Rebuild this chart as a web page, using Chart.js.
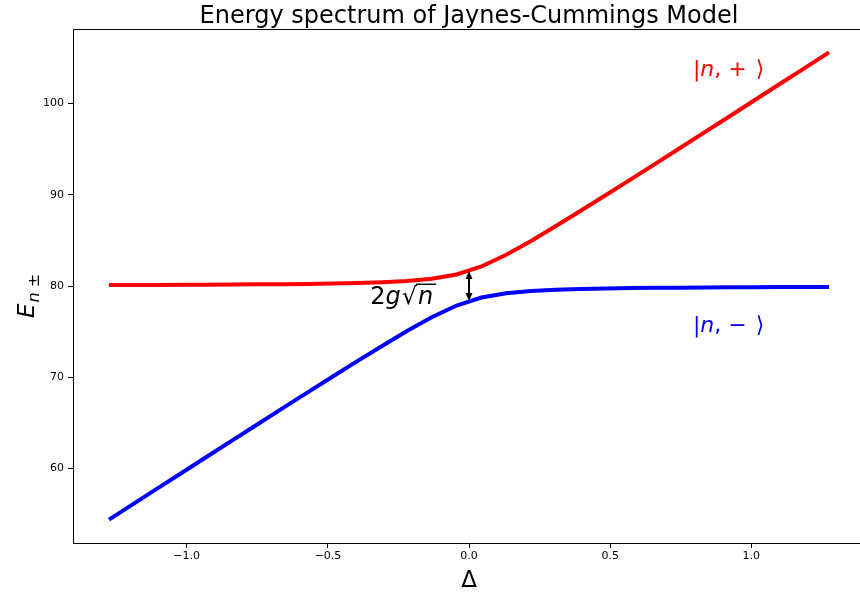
<!DOCTYPE html>
<html>
<head>
<meta charset="utf-8">
<script src="https://cdn.jsdelivr.net/npm/chart.js@4/dist/chart.umd.min.js"></script>
<style>
  html, body { margin: 0; padding: 0; background: #fff; overflow: hidden; }
  #wrap { width: 870px; height: 593px; }
</style>
</head>
<body>
<div id="wrap"><canvas id="spec" width="870" height="593"></canvas></div>
<script>
// detuning samples (Delta)
const delta = [
  -1.2750, -1.1871, -1.0991, -1.0112, -0.9233, -0.8353, -0.7474, -0.6595, -0.5716, -0.4836,
  -0.3957, -0.3078, -0.2198, -0.1319, -0.0440, 0.0440, 0.1319, 0.2198, 0.3078, 0.3957,
  0.4836, 0.5716, 0.6595, 0.7474, 0.8353, 0.9233, 1.0112, 1.0991, 1.1871, 1.2750
];
// upper branch |n,+>
const ePlus = [
  80.11, 80.11, 80.12, 80.13, 80.15, 80.16, 80.18, 80.20, 80.23, 80.27,
  80.33, 80.41, 80.55, 80.79, 81.26, 82.14, 83.43, 84.94, 86.57, 88.24,
  89.94, 91.66, 93.39, 95.13, 96.87, 98.61, 100.36, 102.11, 103.86, 105.61
];
// lower branch |n,->
const eMinus = [
  54.39, 56.15, 57.90, 59.64, 61.39, 63.13, 64.87, 66.61, 68.34, 70.06,
  71.76, 73.43, 75.06, 76.57, 77.86, 78.74, 79.21, 79.45, 79.59, 79.67,
  79.73, 79.77, 79.80, 79.82, 79.84, 79.86, 79.87, 79.88, 79.89, 79.89
];
const xTicks = [-1.0, -0.5, 0.0, 0.5, 1.0];
const yTicks = [60, 70, 80, 90, 100];

// gap marker at resonance
const gapX = 0.0;
const gapTop = 81.65;
const gapBottom = 78.35;

const FONT = "'DejaVu Sans', sans-serif";

function pts(xs, ys) { return xs.map((x, i) => ({ x: x, y: ys[i] })); }

// draw a sequence of text pieces, some in oblique
function drawRuns(ctx, runs, x, y, size, color) {
  ctx.fillStyle = color;
  ctx.textAlign = 'left';
  ctx.textBaseline = 'alphabetic';
  let cx = x;
  runs.forEach(r => {
    ctx.font = (r.it ? 'oblique ' : '') + size + 'px ' + FONT;
    ctx.fillText(r.t, cx, y);
    cx += ctx.measureText(r.t).width + (r.gap || 0);
  });
  return cx;
}

const extras = {
  id: 'extras',
  afterDraw(chart) {
    const ctx = chart.ctx;
    const a = chart.chartArea;
    const xs = chart.scales.x, ys = chart.scales.y;
    ctx.save();

    // top and right spines
    ctx.strokeStyle = '#000';
    ctx.lineWidth = 1;
    ctx.beginPath();
    ctx.moveTo(a.left, a.top + 0.5);
    ctx.lineTo(a.right, a.top + 0.5);
    ctx.lineTo(a.right, a.bottom);
    ctx.stroke();

    // title
    ctx.fillStyle = '#000';
    ctx.font = '24px ' + FONT;
    ctx.textAlign = 'center';
    ctx.textBaseline = 'alphabetic';
    ctx.fillText('Energy spectrum of Jaynes-Cummings Model', (a.left + a.right) / 2, 23);

    // x axis label
    ctx.font = '23px ' + FONT;
    ctx.fillText('\u0394', (a.left + a.right) / 2, 587);

    // y axis label E_{n ±}
    ctx.save();
    ctx.translate(34, 318);
    ctx.rotate(-Math.PI / 2);
    ctx.fillStyle = '#000';
    ctx.textAlign = 'left';
    ctx.font = 'oblique 23px ' + FONT;
    ctx.fillText('E', 0, 0);
    let w = ctx.measureText('E').width;
    ctx.font = 'oblique 16px ' + FONT;
    ctx.fillText('n', w + 1, 5);
    let w2 = ctx.measureText('n').width;
    ctx.font = '16px ' + FONT;
    ctx.fillText(' \u00b1', w + 1 + w2, 5);
    ctx.restore();

    // state labels
    drawRuns(ctx, [{ t: '|' }, { t: 'n', it: true }, { t: ', + ', gap: 2 }, { t: '\u27e9' }],
      xs.getPixelForValue(0.8) - 2, ys.getPixelForValue(103), 22, '#ff0000');
    drawRuns(ctx, [{ t: '|' }, { t: 'n', it: true }, { t: ', \u2212 ', gap: 2 }, { t: '\u27e9' }],
      xs.getPixelForValue(0.8) - 2, ys.getPixelForValue(75), 22, '#0000ff');

    // 2g sqrt(n)
    const bx = xs.getPixelForValue(-0.35), by = ys.getPixelForValue(78);
    let cx = drawRuns(ctx, [{ t: '2' }, { t: 'g', it: true, gap: 1 }, { t: '\u221a', gap: 1 }], bx, by, 24, '#000');
    let nx = cx;
    cx = drawRuns(ctx, [{ t: 'n', it: true }], nx, by, 24, '#000');
    ctx.strokeStyle = '#000';
    ctx.lineWidth = 1.4;
    ctx.beginPath();
    ctx.moveTo(nx - 2, by - 20);
    ctx.lineTo(cx + 3, by - 20);
    ctx.stroke();

    // double-headed arrow for the splitting
    const ax = xs.getPixelForValue(gapX);
    const y1 = ys.getPixelForValue(gapTop), y2 = ys.getPixelForValue(gapBottom);
    ctx.fillStyle = '#000';
    ctx.lineWidth = 2;
    ctx.beginPath();
    ctx.moveTo(ax, y1 + 6);
    ctx.lineTo(ax, y2 - 6);
    ctx.stroke();
    ctx.beginPath();
    ctx.moveTo(ax, y1);
    ctx.lineTo(ax - 3.5, y1 + 8);
    ctx.lineTo(ax + 3.5, y1 + 8);
    ctx.closePath();
    ctx.fill();
    ctx.beginPath();
    ctx.moveTo(ax, y2);
    ctx.lineTo(ax - 3.5, y2 - 8);
    ctx.lineTo(ax + 3.5, y2 - 8);
    ctx.closePath();
    ctx.fill();

    ctx.restore();
  }
};

const tickFont = { family: FONT, size: 11 };

new Chart(document.getElementById('spec'), {
  type: 'line',
  data: {
    datasets: [
      { label: '|n,+>', data: pts(delta, ePlus), borderColor: '#ff0000', borderWidth: 4,
        pointRadius: 0, tension: 0, fill: false },
      { label: '|n,->', data: pts(delta, eMinus), borderColor: '#0000ff', borderWidth: 4,
        pointRadius: 0, tension: 0, fill: false }
    ]
  },
  options: {
    responsive: false,
    animation: false,
    devicePixelRatio: 1,
    layout: { padding: { top: 29, right: 5, left: 0, bottom: 0 } },
    plugins: { legend: { display: false }, tooltip: { enabled: false }, title: { display: false } },
    scales: {
      x: {
        type: 'linear',
        min: -1.4025, max: 1.4025,
        afterBuildTicks: s => { s.ticks = xTicks.map(v => ({ value: v })); },
        afterFit: s => { s.height = 50; },
        ticks: {
          font: tickFont, color: '#000', padding: 2, maxRotation: 0,
          callback: v => (v < 0 ? '\u2212' : '') + Math.abs(v).toFixed(1)
        },
        grid: { drawOnChartArea: false, drawTicks: true, tickLength: 5, color: '#000' },
        border: { display: true, color: '#000', width: 1 }
      },
      y: {
        type: 'linear',
        min: 51.83, max: 108.17,
        afterBuildTicks: s => { s.ticks = yTicks.map(v => ({ value: v })); },
        afterFit: s => { s.width = 73; },
        ticks: { font: tickFont, color: '#000', padding: 4, callback: v => String(v) },
        grid: { drawOnChartArea: false, drawTicks: true, tickLength: 5, color: '#000' },
        border: { display: true, color: '#000', width: 1 }
      }
    }
  },
  plugins: [extras]
});
</script>
</body>
</html>
